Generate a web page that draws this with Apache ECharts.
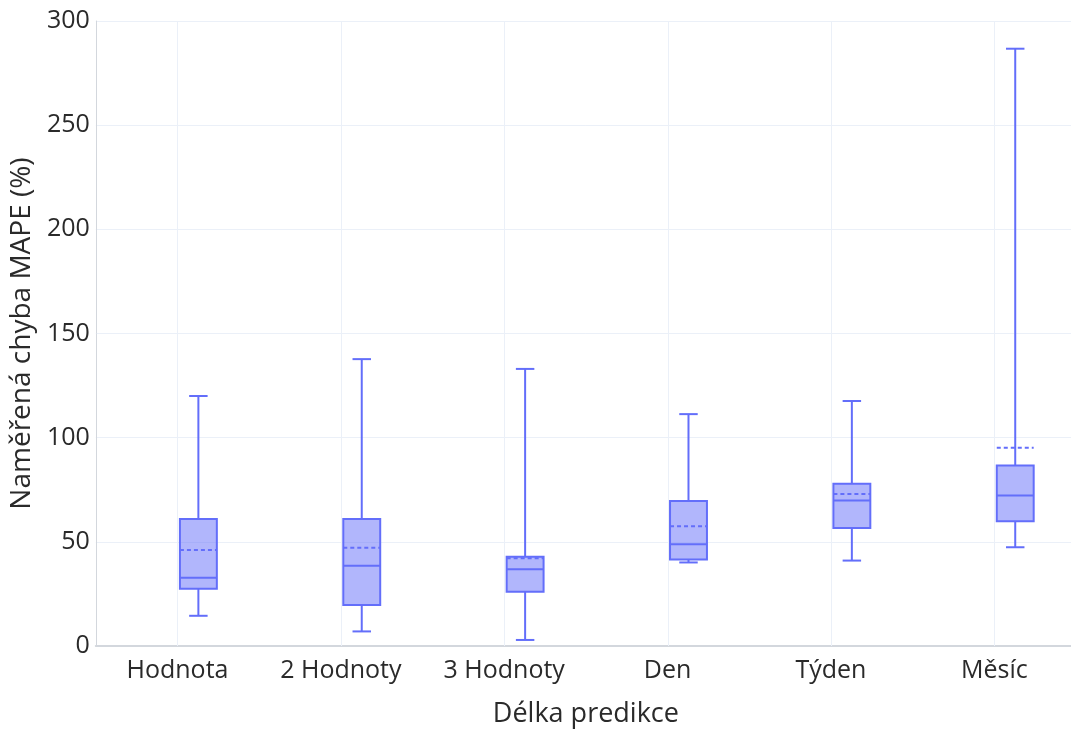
<!DOCTYPE html>
<html>
<head>
<meta charset="utf-8">
<script src="https://cdn.jsdelivr.net/npm/echarts@6/dist/echarts.min.js"></script>
<style>
  html, body { margin: 0; padding: 0; background: #fff; }
  #wrap { position: relative; width: 1071px; height: 733px; overflow: hidden; }
  /* plot area runs a few pixels past the right edge of the visible frame */
  #chart { position: absolute; left: 0; top: 0; width: 1076px; height: 733px; }
</style>
</head>
<body>
<div id="wrap"><div id="chart"></div></div>
<script>
// Prediction horizons (x categories)
const categories = ['Hodnota', '2 Hodnoty', '3 Hodnoty', 'Den', 'Týden', 'Měsíc'];
// Box statistics of MAPE (%) per horizon
const lowerFence = [14.5, 7.0, 2.9, 40.1, 41.0, 47.4];
const q1Values = [27.5, 19.7, 26.1, 41.5, 56.6, 59.9];
const medianValues = [32.8, 38.5, 36.9, 48.8, 69.8, 72.2];
const q3Values = [61.0, 61.0, 42.8, 69.6, 77.9, 86.6];
const upperFence = [120.0, 137.7, 133.0, 111.3, 117.6, 286.7];
const meanValues = [46.1, 47.2, 42.1, 57.5, 73.0, 95.2];
// Y axis ticks
const yTicks = [0, 50, 100, 150, 200, 250, 300];

const lineColor = '#636EFA';
const fillColor = 'rgba(99,110,250,0.5)';
const gridColor = '#EBF0F8';
const textColor = '#2a2a2a';
const fontFamily = '"Open Sans", "Noto Sans", sans-serif';

const boxData = categories.map((c, i) => [
  i, lowerFence[i], q1Values[i], medianValues[i], q3Values[i], upperFence[i], meanValues[i]
]);

// One box per category: vertical gridline at the category centre,
// whiskers with caps, filled IQR box, median and dashed mean line.
function renderBox(params, api) {
  const idx = api.value(0);
  const band = api.size([1, 0])[0];
  const gx = api.coord([idx, 0])[0];
  const cx = gx + band * 0.128;
  const half = band * 0.113;
  const capHalf = half / 2;
  const area = params.coordSys;
  const y = v => api.coord([idx, v])[1];
  const yMin = y(api.value(1));
  const yQ1 = y(api.value(2));
  const yMed = y(api.value(3));
  const yQ3 = y(api.value(4));
  const yMax = y(api.value(5));
  const yMean = y(api.value(6));
  const stroke = { stroke: lineColor, lineWidth: 2 };
  return {
    type: 'group',
    children: [
      { type: 'line', z2: -10,
        shape: { x1: Math.round(gx) + 0.5, y1: area.y, x2: Math.round(gx) + 0.5, y2: area.y + area.height },
        style: { stroke: gridColor, lineWidth: 1 } },
      { type: 'line', shape: { x1: cx, y1: yQ3, x2: cx, y2: yMax }, style: stroke },
      { type: 'line', shape: { x1: cx, y1: yQ1, x2: cx, y2: yMin }, style: stroke },
      { type: 'line', shape: { x1: cx - capHalf, y1: yMax, x2: cx + capHalf, y2: yMax }, style: stroke },
      { type: 'line', shape: { x1: cx - capHalf, y1: yMin, x2: cx + capHalf, y2: yMin }, style: stroke },
      { type: 'rect', shape: { x: cx - half, y: yQ3, width: half * 2, height: yQ1 - yQ3 },
        style: { fill: fillColor, stroke: lineColor, lineWidth: 2 } },
      { type: 'line', shape: { x1: cx - half, y1: yMed, x2: cx + half, y2: yMed }, style: stroke },
      { type: 'line', shape: { x1: cx - half, y1: yMean, x2: cx + half, y2: yMean },
        style: { stroke: lineColor, lineWidth: 2, lineDash: [4, 3] } }
    ]
  };
}

const chart = echarts.init(document.getElementById('chart'), null, { renderer: 'canvas', width: 1076, height: 733 });
chart.setOption({
  backgroundColor: '#ffffff',
  animation: false,
  grid: { left: 95, right: 0, top: 21, bottom: 83, containLabel: false },
  xAxis: {
    type: 'category',
    data: categories,
    boundaryGap: true,
    name: 'Délka predikce',
    nameLocation: 'middle',
    nameGap: 55,
    nameTextStyle: { fontFamily, fontSize: 27, color: textColor },
    axisLine: { show: true, lineStyle: { color: '#D3D7DD', width: 2 } },
    axisTick: { show: false },
    axisLabel: { fontFamily, fontSize: 25, color: textColor, margin: 12 },
    splitLine: { show: false }
  },
  yAxis: {
    type: 'value',
    min: yTicks[0],
    max: yTicks[yTicks.length - 1],
    interval: 50,
    name: 'Naměřená chyba MAPE (%)',
    nameLocation: 'middle',
    nameGap: 54,
    nameTextStyle: { fontFamily, fontSize: 28, color: textColor },
    axisLine: { show: true, lineStyle: { color: '#D3D7DD', width: 1 } },
    axisTick: { show: false },
    axisLabel: { fontFamily, fontSize: 25, color: textColor, margin: 6 },
    splitLine: { show: true, lineStyle: { color: gridColor, width: 1 } }
  },
  series: [{
    type: 'custom',
    renderItem: renderBox,
    encode: { x: 0, y: [1, 2, 3, 4, 5, 6] },
    data: boxData,
    clip: false
  }]
});
</script>
</body>
</html>
